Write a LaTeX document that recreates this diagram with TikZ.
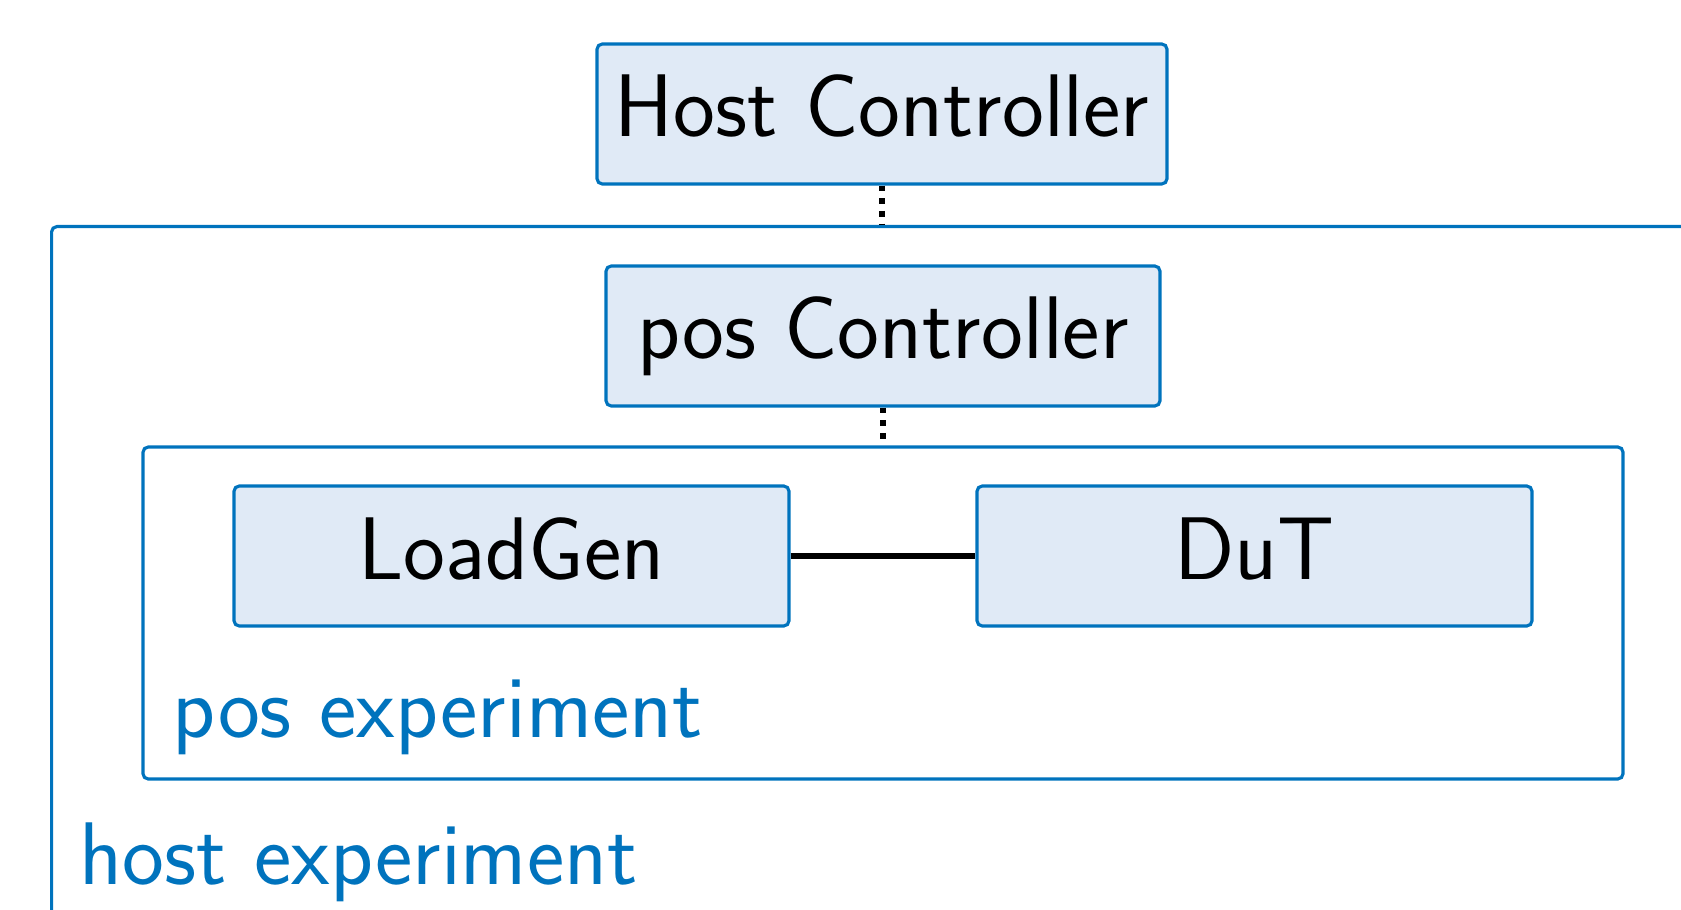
\documentclass[tikz,border=0pt]{standalone}
\usepackage{tikz}

\definecolor{tumblue}{RGB}{0,115,189}
\definecolor{tumlight}{RGB}{224,234,246}

\tikzset{
  box/.style={draw=tumblue,fill=tumlight,line width=0.9pt,rounded corners=1.5pt,
    minimum width=#1,minimum height=1.40cm,inner sep=0pt,
    text height=0.70cm,text depth=0.24cm},
  group/.style={draw=tumblue,line width=0.9pt,rounded corners=1.5pt,inner sep=0pt},
  grouplabel/.style={text=tumblue,anchor=base west,inner sep=0pt},
  link/.style={line width=1.6pt},
}

\begin{document}
\begin{tikzpicture}[font=\sffamily\fontsize{25.3}{30}\selectfont]
  \useasboundingbox (0,0) rectangle (16.81,-9.10);
  \clip (0,0) rectangle (16.81,-9.10);

  % controllers
  \node[box=5.70cm] (hostctl) at (8.82,-1.14) {Host Controller};
  \node[box=5.54cm] (posctl) at (8.83,-3.36) {pos Controller};

  % experiment frames
  \node[group,minimum width=17cm,minimum height=8cm,anchor=north west]
      (hostexp) at (0.50,-2.25) {};
  \node[group,minimum width=14.80cm,minimum height=3.32cm]
      (posexp) at (8.83,-6.13) {};

  % nodes under test
  \node[box=5.55cm] (loadgen) at (5.115,-5.56) {LoadGen};
  \node[box=5.55cm] (dut) at (12.545,-5.56) {DuT};

  \node[grouplabel] (poslabel) at (1.72,-7.37) {pos experiment};
  \node[grouplabel] (hostlabel) at (0.79,-8.84) {host experiment};

  \draw[link,dotted] (hostctl.south) -- (hostctl.south |- hostexp.north);
  \draw[link,dotted] (posctl.south) -- (posctl.south |- posexp.north);
  \draw[link] (loadgen) -- (dut);
\end{tikzpicture}
\end{document}
